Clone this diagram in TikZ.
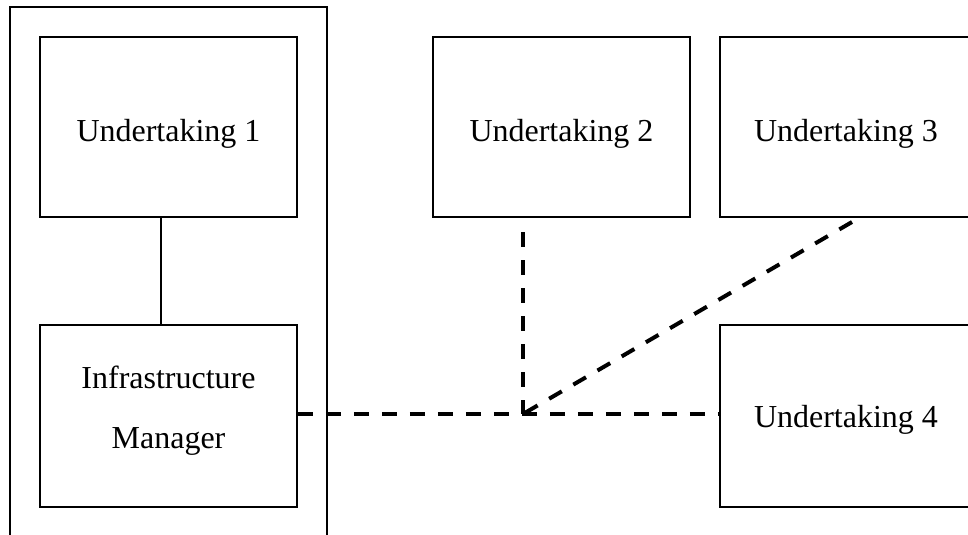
\documentclass[tikz,border=0pt]{standalone}
\usepackage{fontspec}
\setmainfont{Liberation Serif}
% shift a label vertically without changing the size the node sees
\newcommand{\boxtext}[2]{\raisebox{#1}[\height][\depth]{#2}}
\begin{document}
\begin{tikzpicture}[x=0.75pt,y=-0.75pt,
  unit/.style={draw=black,line width=1.3pt,minimum width=257*0.75pt,minimum height=180*0.75pt,
    inner sep=0pt,font=\fontsize{24}{30}\selectfont,align=center},
  wide/.style={unit,minimum width=252*0.75pt},
  link/.style={draw=black,line width=1.3pt},
  dlink/.style={draw=black,line width=3pt,dash pattern=on 11pt off 10pt}]
\useasboundingbox (0,0) rectangle (968,535);
% enclosure around undertaking 1 and the infrastructure manager
\draw[link] (10,545) -- (10,7) -- (327,7) -- (327,545);
% boxes
\node[unit] (u1) at (168.5,127) {\boxtext{-5pt}{Undertaking 1}};
\node[unit,minimum height=182*0.75pt] (im) at (168.5,416)
  {\boxtext{3.8pt}{\begin{tabular}{@{}c@{}}Infrastructure\\[15pt]Manager\end{tabular}}};
\node[unit] (u2) at (561.5,127) {\boxtext{-5pt}{Undertaking 2}};
\node[wide] (u3) at (846,127) {\boxtext{-5pt}{Undertaking 3}};
\node[wide,minimum height=182*0.75pt] (u4) at (846,416) {\boxtext{-3pt}{Undertaking 4}};
% solid link between undertaking 1 and the manager
\draw[link] ([xshift=-7.5*0.75pt]u1.south) -- ([xshift=-7.5*0.75pt]im.north);
% dashed links meeting at a junction
\coordinate (j) at (523,414);
\coordinate (u2end) at (523,232);
\coordinate (u3end) at (852,222);
\draw[dlink] (im.east |- j) -- (u4.west |- j);
\draw[dlink] (u2end) -- (j);
\draw[dlink] (u3end) -- (j);
\end{tikzpicture}
\end{document}
